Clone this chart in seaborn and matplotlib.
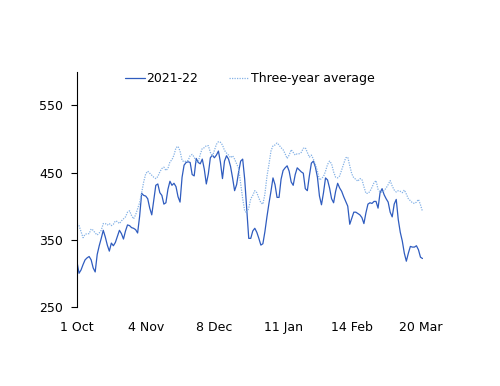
import numpy as np
import pandas as pd
import matplotlib
matplotlib.use("Agg")
import matplotlib.pyplot as plt
import seaborn as sns

# daily values, 1 Oct 2021 - 21 Mar 2022
season = [317, 300, 305, 313, 320, 323, 325, 320, 308, 302,
          328, 341, 352, 364, 354, 342, 333, 345, 341, 346,
          355, 364, 359, 351, 363, 372, 371, 368, 367, 365,
          360, 385, 419, 416, 415, 411, 397, 387, 409, 431,
          433, 420, 416, 403, 405, 425, 437, 431, 434, 429,
          414, 406, 443, 461, 465, 466, 465, 447, 445, 471,
          465, 463, 470, 455, 433, 448, 472, 476, 472, 476,
          482, 465, 441, 467, 475, 470, 459, 442, 423, 432,
          451, 467, 470, 440, 396, 352, 352, 363, 367, 361,
          352, 342, 344, 362, 384, 404, 422, 442, 432, 413,
          413, 440, 453, 457, 460, 452, 436, 431, 447, 457,
          454, 451, 449, 426, 423, 445, 464, 467, 458, 443,
          415, 402, 420, 442, 439, 427, 411, 405, 422, 434,
          427, 422, 414, 407, 400, 373, 382, 391, 391, 389,
          387, 383, 374, 390, 403, 405, 404, 407, 407, 397,
          420, 426, 417, 411, 406, 391, 384, 403, 410, 380,
          361, 348, 330, 318, 330, 340, 339, 339, 341, 335,
          324, 322]

three_year = [374, 371, 362, 353, 358, 359, 359, 366, 364, 360,
              357, 360, 364, 374, 374, 372, 374, 371, 373, 378,
              377, 374, 378, 381, 384, 391, 393, 386, 381, 387,
              396, 405, 420, 436, 448, 452, 449, 446, 443, 441,
              444, 451, 456, 458, 453, 456, 466, 469, 476, 487,
              489, 482, 468, 466, 467, 468, 475, 477, 473, 465,
              466, 477, 486, 487, 490, 490, 480, 474, 483, 492,
              496, 495, 491, 483, 479, 476, 472, 475, 470, 463,
              456, 434, 411, 393, 390, 397, 411, 416, 423, 420,
              412, 405, 403, 418, 444, 462, 482, 490, 491, 494,
              491, 487, 484, 478, 471, 476, 484, 480, 476, 478,
              478, 480, 486, 487, 480, 473, 476, 470, 462, 452,
              439, 441, 444, 452, 462, 467, 463, 451, 443, 442,
              445, 454, 463, 472, 473, 460, 448, 442, 440, 437,
              441, 440, 429, 419, 419, 422, 428, 435, 438, 425,
              421, 421, 423, 427, 432, 438, 430, 424, 421, 423,
              422, 420, 424, 418, 411, 408, 405, 404, 406, 410,
              402, 392]

tick_days = [0, 34, 68, 102, 136, 170]
tick_labels = ["1 Oct", "4 Nov", "8 Dec", "11 Jan", "14 Feb", "20 Mar"]

days = np.arange(len(season))
df = pd.DataFrame({
    "day": np.concatenate([days, days]),
    "value": season + three_year,
    "series": ["2021-22"] * len(season) + ["Three-year average"] * len(three_year),
})

sns.set_style("white")
plt.rcParams["font.family"] = ["DejaVu Sans"]
plt.rcParams["text.color"] = "black"
plt.rcParams["xtick.color"] = "black"
plt.rcParams["ytick.color"] = "black"

fig = plt.figure(figsize=(5, 3.86), dpi=100)
ax = fig.add_axes([0.154, 0.205, 0.691, 0.609])

sns.lineplot(data=df, x="day", y="value", hue="series", style="series",
             palette={"2021-22": "#2f5cbf", "Three-year average": "#85b2e6"},
             dashes={"2021-22": "", "Three-year average": (1, 1)},
             linewidth=0.9, ax=ax)

ax.set_xlim(0, 171)
ax.set_ylim(250, 600)
ax.set_yticks([250, 350, 450, 550])
ax.set_xticks(tick_days)
ax.set_xticklabels(tick_labels)
ax.set_xlabel("")
ax.set_ylabel("")
ax.tick_params(axis="y", which="both", left=True, length=4, width=0.8,
               labelsize=9, pad=6, color="black", labelcolor="black")
ax.tick_params(axis="x", length=0, labelsize=9, pad=10, labelcolor="black")

for side in ["top", "right", "bottom"]:
    ax.spines[side].set_visible(False)
ax.spines["left"].set_color("black")
ax.spines["left"].set_linewidth(0.8)

leg = ax.legend(loc="upper center", bbox_to_anchor=(0.5, 1.047), ncol=2,
                frameon=False, fontsize=9, handlelength=1.6, handletextpad=0.1,
                columnspacing=2.5)
for t in leg.get_texts():
    t.set_color("black")

fig.savefig("out.png", dpi=100)
